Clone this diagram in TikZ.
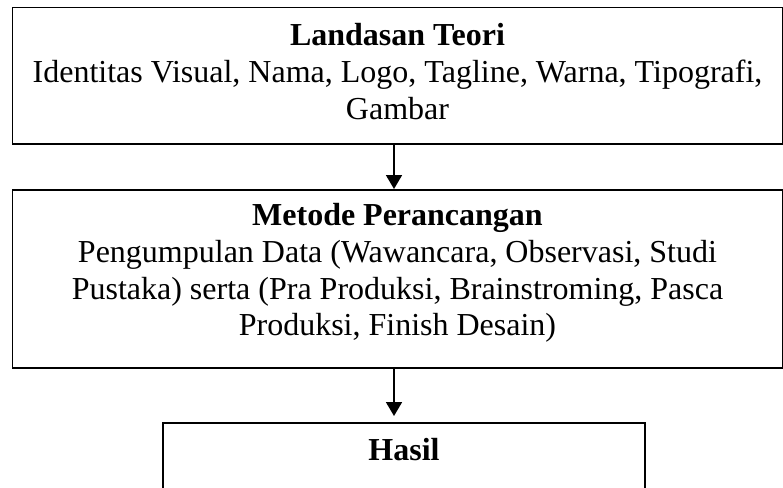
\documentclass[tikz,border=0pt]{standalone}
\usepackage{fontspec}
\setmainfont{Liberation Serif}
\usetikzlibrary{arrows.meta,positioning}

\begin{document}
\begin{tikzpicture}[x=1pt, y=-1pt,
  every node/.style={font=\fontsize{32}{36.7}\selectfont},
  box/.style={draw, line width=1.5pt, align=center, anchor=north, inner xsep=0pt, inner ysep=0pt},
  arr/.style={-{Triangle[length=14pt, width=16pt]}, line width=1.8pt}
]
\useasboundingbox (0,0) rectangle (783,487);
\clip (0,0) rectangle (783,487);

\node[box, minimum width=770pt] (teori) at (397.5,7)
  {\rule{0pt}{38pt}\textbf{Landasan Teori}\\
   Identitas Visual, Nama, Logo, Tagline, Warna, Tipografi,\\
   Gambar\rule[-25pt]{0pt}{25pt}};
\node[box, minimum width=770pt] (metode) at (397.5,189)
  {\rule{0pt}{36pt}\textbf{Metode Perancangan}\\
   Pengumpulan Data (Wawancara, Observasi, Studi\\
   Pustaka) serta (Pra Produksi, Brainstroming, Pasca\\
   Produksi, Finish Desain)\rule[-32pt]{0pt}{32pt}};
\node[box, minimum width=482pt] (hasil) at (404,422)
  {\rule{0pt}{38pt}\textbf{Hasil}\rule[-80pt]{0pt}{80pt}};

\draw[arr] ([xshift=-3.5pt]teori.south) -- ([xshift=-3.5pt]metode.north);
\draw[arr] ([xshift=-3.5pt]metode.south) -- ([xshift=-10pt, yshift=6pt]hasil.north);
\end{tikzpicture}
\end{document}
